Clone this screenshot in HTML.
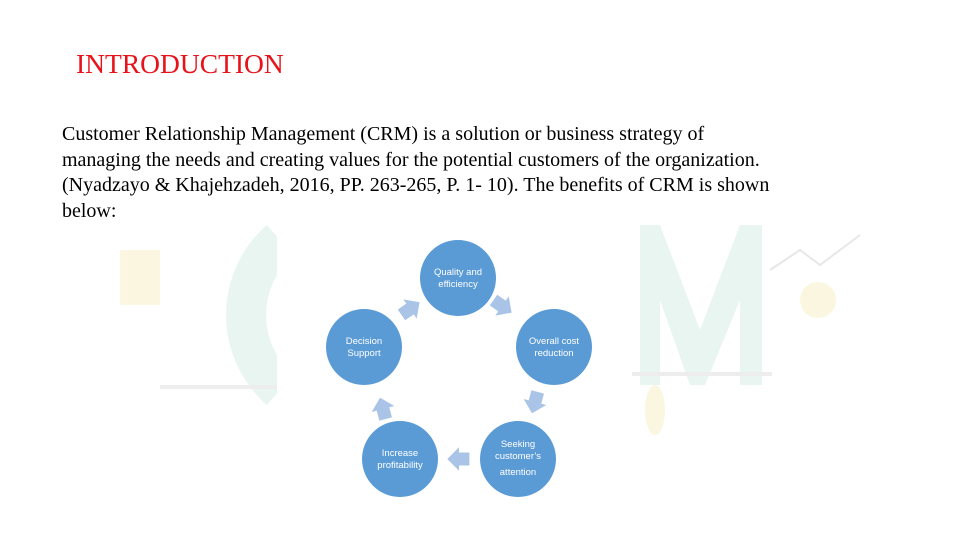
<!DOCTYPE html>
<html><head><style>
body{margin:0;width:961px;height:540px;background:#fff;position:relative;overflow:hidden;font-family:"Liberation Serif",serif}
.t{position:absolute;left:76px;top:48px;color:#e8121a;font-size:27.5px;white-space:nowrap}
.p{position:absolute;left:62px;top:122px;font-size:20px;line-height:25.5px;color:#000;width:900px;white-space:nowrap}
</style></head><body>
<svg width="961" height="540" style="position:absolute;left:0;top:0">
<g opacity="0.35">
<path d="M280 240 A100 100 0 0 0 280 390" stroke="#bfe3d6" stroke-width="40" fill="none"/>
<rect x="120" y="250" width="40" height="55" fill="#f6e7a8"/>
<path d="M640 225 L660 225 L700 330 L740 225 L762 225 L762 385 L740 385 L740 300 L705 385 L690 385 L660 300 L660 385 L640 385Z" fill="#bfe3d6"/>
<rect x="160" y="385" width="120" height="4" fill="#ccc"/>
<rect x="632" y="372" width="140" height="4" fill="#ccc"/>
<path d="M770 270 L800 250 L820 265 L860 235" stroke="#bbb" stroke-width="2" fill="none"/>
<circle cx="818" cy="300" r="18" fill="#f6e7a8"/>
<ellipse cx="655" cy="410" rx="10" ry="25" fill="#f6e7a8"/>
</g>
<rect x="277" y="218" width="355" height="290" fill="#fff"/>
<g fill="#5b9bd5">
<circle cx="458" cy="278" r="38"/>
<circle cx="554" cy="347" r="38"/>
<circle cx="518" cy="459" r="38"/>
<circle cx="400" cy="459" r="38"/>
<circle cx="364" cy="347" r="38"/>
</g>
<g fill="#a9c4e6">
<polygon transform="translate(502,306) rotate(35) scale(1.3)" points="-8,-5 0,-5 0,-9 9,0 0,9 0,5 -8,5"/>
<polygon transform="translate(535,402) rotate(105) scale(1.3)" points="-8,-5 0,-5 0,-9 9,0 0,9 0,5 -8,5"/>
<polygon transform="translate(459,459) rotate(180) scale(1.3)" points="-8,-5 0,-5 0,-9 9,0 0,9 0,5 -8,5"/>
<polygon transform="translate(383,409) rotate(-105) scale(1.3)" points="-8,-5 0,-5 0,-9 9,0 0,9 0,5 -8,5"/>
<polygon transform="translate(410,309) rotate(-35) scale(1.3)" points="-8,-5 0,-5 0,-9 9,0 0,9 0,5 -8,5"/>
</g>
<g fill="#fff" font-family="Liberation Sans,sans-serif" font-size="9.5" text-anchor="middle">
<text x="458" y="275">Quality and</text><text x="458" y="287">efficiency</text>
<text x="554" y="344">Overall cost</text><text x="554" y="356">reduction</text>
<text x="518" y="447">Seeking</text><text x="518" y="459">customer’s</text><text x="518" y="475">attention</text>
<text x="400" y="456">Increase</text><text x="400" y="468">profitability</text>
<text x="364" y="344">Decision</text><text x="364" y="356">Support</text>
</g>
</svg>
<div class="t">INTRODUCTION</div>
<div class="p">Customer Relationship Management (CRM) is a solution or business strategy of<br>managing the needs and creating values for the potential customers of the organization.<br>(Nyadzayo &amp; Khajehzadeh, 2016, PP. 263-265, P. 1- 10). The benefits of CRM is shown<br>below:</div>
</body></html>
